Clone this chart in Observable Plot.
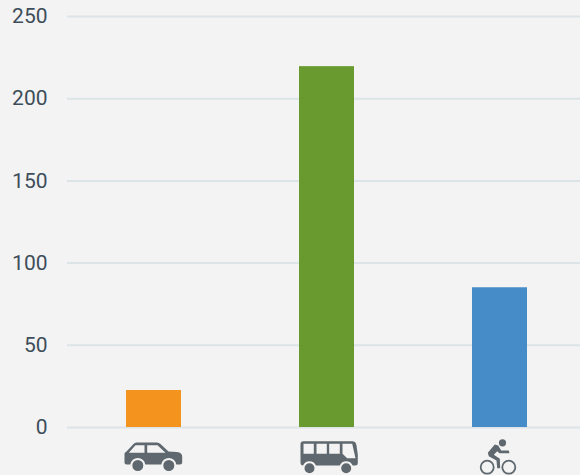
<!DOCTYPE html>
<html>
<head>
<meta charset="utf-8">
<script src="https://cdn.jsdelivr.net/npm/d3@7"></script>
<script src="https://cdn.jsdelivr.net/npm/@observablehq/plot@0.6"></script>
<style>
html,body{margin:0;padding:0;background:#f3f3f3;overflow:hidden}
svg{display:block}
</style>
</head>
<body>
<div id="chart"></div>
<script>
const modes = ["car", "bus", "bike"];
const counts = [22.5, 219.5, 85];
const colors = ["#f5931f", "#689a2f", "#458cc9"];
const yTicks = [0, 50, 100, 150, 200, 250];

const ICON = "#5f686e";
function poly(c, pts) {
  pts.forEach((p, i) => i ? c.lineTo(p[0], p[1]) : c.moveTo(p[0], p[1]));
  c.closePath();
}
function disc(c, x, y, r) {
  c.moveTo(x + r, y);
  c.arc(x, y, r, 0, 2 * Math.PI);
  c.closePath();
}
function ring(c, x, y, R, r) {
  disc(c, x, y, R);
  c.moveTo(x + r, y);
  c.arc(x, y, r, 0, -2 * Math.PI, true);
  c.closePath();
}
const carIcon = {
  draw(c) {
    c.moveTo(-29.5, 5);
    c.lineTo(-29.5, -3.5);
    c.quadraticCurveTo(-29.5, -5.5, -27.5, -6);
    c.lineTo(-20.5, -13.5);
    c.quadraticCurveTo(-19.5, -15, -17.5, -15);
    c.lineTo(3, -15);
    c.quadraticCurveTo(5, -15, 6.5, -13.5);
    c.lineTo(14.5, -6);
    c.lineTo(23, -5.5);
    c.quadraticCurveTo(28.2, -5, 28.2, -1);
    c.lineTo(28.2, 5);
    c.quadraticCurveTo(28.2, 7, 26, 7);
    c.lineTo(22.2, 7);
    c.arc(14.8, 8, 7.5, -0.13, -Math.PI + 0.13, true);
    c.lineTo(-8.7, 7);
    c.arc(-16.2, 8, 7.5, -0.13, -Math.PI + 0.13, true);
    c.lineTo(-27.5, 7);
    c.quadraticCurveTo(-29.5, 7, -29.5, 5);
    c.closePath();
    poly(c, [[-25.2, -4.7], [-9.5, -4.7], [-9.5, -12.3], [-18.5, -12.3]]);
    poly(c, [[-6.8, -4.7], [11.5, -4.7], [3.5, -12.3], [-6.8, -12.3]]);
    disc(c, -16.2, 8, 5.5);
    disc(c, 14.8, 8, 5.5);
  }
};
const busIcon = {
  draw(c) {
    c.moveTo(-26.5, 5);
    c.lineTo(-26.5, -13.5);
    c.quadraticCurveTo(-26.5, -16.3, -23.5, -16.3);
    c.lineTo(25, -16.3);
    c.quadraticCurveTo(29, -16.3, 29.5, -12);
    c.lineTo(30.8, -3);
    c.lineTo(30.8, 5.5);
    c.quadraticCurveTo(30.8, 8, 28, 8);
    c.lineTo(26.2, 8);
    c.arc(19.2, 10.7, 7, -0.4, -Math.PI + 0.4, true);
    c.lineTo(-10.6, 8);
    c.arc(-17.5, 10.7, 7, -0.4, -Math.PI + 0.4, true);
    c.lineTo(-24, 8);
    c.quadraticCurveTo(-26.5, 8, -26.5, 5);
    c.closePath();
    poly(c, [[-23.5, -3.7], [-13.2, -3.7], [-13.2, -13.7], [-23.5, -13.7]]);
    poly(c, [[-10.5, -3.7], [-0.2, -3.7], [-0.2, -13.7], [-10.5, -13.7]]);
    poly(c, [[2.2, -3.7], [12.8, -3.7], [12.8, -13.7], [2.2, -13.7]]);
    poly(c, [[15.5, -3.7], [20.2, 0.7], [28.5, 0.7], [25.2, -13.7], [15.5, -13.7]]);
    disc(c, -17.5, 10.7, 5);
    disc(c, 19.2, 10.7, 5);
  }
};
const bikeIcon = {
  draw(c) {
    disc(c, 2.5, -14.7, 3.6);
    ring(c, -12.8, 9.7, 7.4, 5.6);
    ring(c, 8.8, 9.7, 7.4, 5.6);
    poly(c, [[-12.2, -4.7], [-5.2, -13], [-1.8, -12], [1.2, -7], [8.8, -7], [9.5, -4.3],
      [-0.5, -4.3], [-2.8, -6.3], [-6.2, -2.7], [-0.2, 1.3], [0.2, 10.7], [-2.8, 10.7],
      [-3.5, 3], [-11.2, -1.3]]);
  }
};
const icons = [carIcon, busIcon, bikeIcon];

const chart = Plot.plot({
  width: 580,
  height: 475,
  marginTop: 16,
  marginBottom: 48,
  marginLeft: 67,
  marginRight: 0,
  style: {background: "#f3f3f3", fontFamily: "Roboto", overflow: "hidden"},
  x: {domain: modes, range: [67, 586], paddingInner: 0.682, paddingOuter: 0.341, axis: null},
  y: {domain: [0, 250], label: null, ticks: yTicks},
  marks: [
    Plot.ruleY(yTicks, {stroke: "#dde4e7", strokeWidth: 2}),
    Plot.axisY({ticks: yTicks, tickSize: 0, tickPadding: 20, fontSize: 21, label: null, marginLeft: 67, fill: "#3d4d5a"}),
    Plot.barY(modes, {x: d => d, y: (d, i) => counts[i], fill: (d, i) => colors[i]}),
    ...modes.map((m, i) => Plot.dot([m], {x: d => d, y: () => 0, dy: 30, symbol: icons[i], fill: ICON, stroke: "none", r: 10}))
  ]
});
document.getElementById("chart").append(chart);
</script>
</body>
</html>
